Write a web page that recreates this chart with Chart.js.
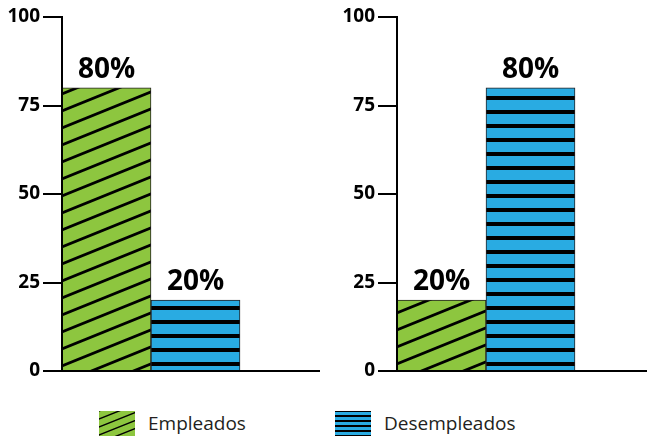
<!DOCTYPE html>
<html>
<head>
<meta charset="utf-8">
<script src="https://cdn.jsdelivr.net/npm/chart.js@4.4.1/dist/chart.umd.min.js"></script>
<style>
  html, body { margin: 0; padding: 0; background: #fff; }
  #wrap { position: relative; width: 647px; height: 439px; overflow: hidden; }
  .box { position: absolute; top: 0; }
  .legend { position: absolute; top: 410px; display: flex; align-items: center;
            font-family: 'Open Sans', sans-serif; font-size: 19px; color: #231f20; }
  .legend canvas { margin-right: 13px; display: block; }
</style>
</head>
<body>
<div id="wrap">
  <div class="box" style="left:0;width:330px;height:390px;"><canvas id="chartA" width="330" height="390"></canvas></div>
  <div class="box" style="left:330px;width:317px;height:390px;"><canvas id="chartB" width="317" height="390"></canvas></div>
  <div class="legend" style="left:99px;"><canvas id="swA" width="36" height="25"></canvas><span id="lgA"></span></div>
  <div class="legend" style="left:335px;"><canvas id="swB" width="36" height="25"></canvas><span id="lgB"></span></div>
</div>
<script>
// data
const categories = ['Empleados', 'Desempleados'];
const leftValues = [80, 20];
const rightValues = [20, 80];
const yTicks = [0, 25, 50, 75, 100];

const GREEN = '#8dc63f';
const BLUE = '#29abe2';

function diagPattern(ctx, w, h, lw) {
    const c = document.createElement('canvas');
    c.width = w; c.height = h;
    const g = c.getContext('2d');
    g.fillStyle = GREEN;
    g.fillRect(0, 0, w, h);
    g.strokeStyle = '#000';
    g.lineWidth = lw;
    for (let k = -1; k <= 1; k++) {
        g.beginPath();
        g.moveTo(-w, 2 * h + k * h);
        g.lineTo(2 * w, -h + k * h);
        g.stroke();
    }
    return ctx.createPattern(c, 'repeat');
}

function stripePattern(ctx, period, thick) {
    const c = document.createElement('canvas');
    c.width = 4; c.height = period;
    const g = c.getContext('2d');
    g.fillStyle = BLUE;
    g.fillRect(0, 0, 4, period);
    g.fillStyle = '#000';
    g.fillRect(0, 0, 4, thick / 2);
    g.fillRect(0, period - thick / 2, 4, thick / 2);
    return ctx.createPattern(c, 'repeat');
}

// draw the % labels above each bar
const valueLabels = {
    id: 'valueLabels',
    afterDatasetsDraw(chart) {
        const ctx = chart.ctx;
        const meta = chart.getDatasetMeta(0);
        ctx.save();
        ctx.font = 'bold 28px "Open Sans", sans-serif';
        ctx.fillStyle = '#000';
        ctx.textAlign = 'center';
        ctx.textBaseline = 'alphabetic';
        meta.data.forEach((bar, i) => {
            const v = chart.data.datasets[0].data[i].y;
            ctx.fillText(v + '%', bar.x, bar.y - 10);
        });
        ctx.restore();
    }
};

function makeChart(id, values, yWidth, xMax, padRight) {
    const ctx = document.getElementById(id).getContext('2d');
    return new Chart(ctx, {
        type: 'bar',
        data: {
            datasets: [{
                label: categories.join(' / '),
                data: values.map((v, i) => ({ x: i + 0.5, y: v })),
                backgroundColor: [diagPattern(ctx, 42, 17, 2.8), stripePattern(ctx, 14, 4)],
                borderColor: '#231f20',
                borderWidth: 1,
                borderSkipped: 'start',
                barPercentage: 1,
                categoryPercentage: 1
            }]
        },
        options: {
            responsive: false,
            animation: false,
            layout: { padding: { top: 17, right: padRight, left: 0, bottom: 0 } },
            plugins: { legend: { display: false }, tooltip: { enabled: false } },
            scales: {
                x: {
                    type: 'linear',
                    min: 0,
                    max: xMax,
                    offset: false,
                    afterBuildTicks: s => { s.ticks = [0, 1, 2].map(v => ({ value: v })); },
                    ticks: { display: false },
                    grid: { display: false, drawTicks: false },
                    border: { display: true, color: '#000', width: 2, z: 1 },
                    afterFit: s => { s.height = 19; }
                },
                y: {
                    min: 0,
                    max: 100,
                    afterBuildTicks: s => { s.ticks = yTicks.map(v => ({ value: v })); },
                    ticks: {
                        color: '#000',
                        padding: 3,
                        font: { family: 'Open Sans', weight: 'bold', size: 19 }
                    },
                    grid: { drawOnChartArea: false, drawTicks: true, tickLength: 19, tickColor: '#000', lineWidth: 2 },
                    border: { display: true, color: '#000', width: 2, z: 1 },
                    afterFit: s => { s.width = yWidth; }
                }
            }
        },
        plugins: [valueLabels]
    });
}

makeChart('chartA', leftValues, 62, 257 / 89, 11);
makeChart('chartB', rightValues, 67, 250 / 89, 0);

// legend
const swA = document.getElementById('swA').getContext('2d');
swA.fillStyle = diagPattern(swA, 20, 8, 1.4);
swA.fillRect(0, 0, 36, 25);
const swB = document.getElementById('swB').getContext('2d');
swB.fillStyle = stripePattern(swB, 5, 2);
swB.fillRect(0, 0, 36, 25);
document.getElementById('lgA').textContent = categories[0];
document.getElementById('lgB').textContent = categories[1];
</script>
</body>
</html>
